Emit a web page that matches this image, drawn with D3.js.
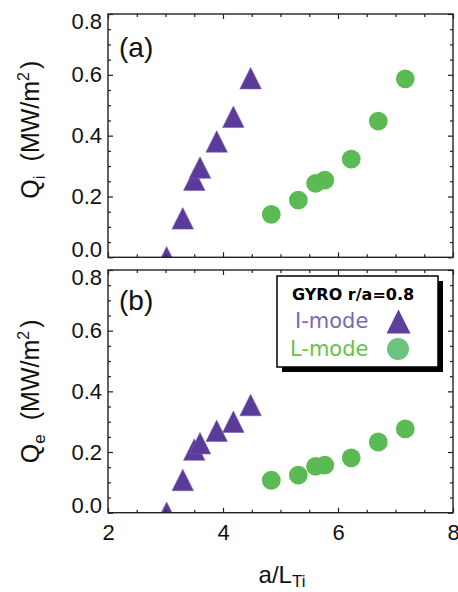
<!DOCTYPE html>
<html>
<head>
<meta charset="utf-8">
<script src="https://cdn.jsdelivr.net/npm/d3@7"></script>
<style>
  html, body { margin: 0; padding: 0; background: #fff; }
  svg { display: block; }
  text { font-family: "Liberation Sans", Arial, Helvetica, sans-serif; }
</style>
</head>
<body>
<svg id="chart" width="458" height="592"></svg>
<script>
// a/L_Ti for each GYRO case
const imodeX = [3.02, 3.30, 3.50, 3.60, 3.89, 4.18, 4.48];
const lmodeX = [4.84, 5.31, 5.61, 5.77, 6.23, 6.70, 7.17];

// ion heat flux Q_i (MW/m^2)
const imodeQi = [0.0, 0.128, 0.255, 0.295, 0.381, 0.462, 0.589];
const lmodeQi = [0.141, 0.188, 0.243, 0.254, 0.323, 0.448, 0.587];

// electron heat flux Q_e (MW/m^2)
const imodeQe = [0.0, 0.108, 0.208, 0.229, 0.270, 0.300, 0.355];
const lmodeQe = [0.107, 0.124, 0.153, 0.157, 0.181, 0.233, 0.276];

// axis ticks
const xMajorTicks = [2, 4, 6, 8];
const xMinorTicks = [2.5, 3, 3.5, 4.5, 5, 5.5, 6.5, 7, 7.5];
const yMajorTicks = [0.0, 0.2, 0.4, 0.6, 0.8];
const yMinorTicks = [0.05, 0.1, 0.15, 0.25, 0.3, 0.35, 0.45, 0.5, 0.55, 0.65, 0.7, 0.75];

const panelLabels = ["(a)", "(b)"];
const legendTitle = "GYRO r/a=0.8";
const seriesNames = ["I-mode", "L-mode"];

const purple = "#5b3b99";
const purpleEdge = "#7a62b2";
const green = "#5cba55";

const svg = d3.select("#chart");

const x = d3.scaleLinear().domain([2, 8]).range([108, 453]);

const panels = [
  { label: panelLabels[0], top: 14, bottom: 257.3, imode: imodeQi, lmode: lmodeQi, sub: "i", showX: false },
  { label: panelLabels[1], top: 270, bottom: 512.7, imode: imodeQe, lmode: lmodeQe, sub: "e", showX: true }
];

// triangle centred on its bounding box
const triangleType = {
  draw(ctx, size) {
    const w = Math.sqrt(size);
    const h = w / 2;
    ctx.moveTo(0, -h);
    ctx.lineTo(h, h);
    ctx.lineTo(-h, h);
    ctx.closePath();
  }
};

panels.forEach((p, i) => {
  const y = d3.scaleLinear().domain([0, 0.8]).range([p.bottom, p.top]);
  const g = svg.append("g");
  const x0 = x.range()[0], x1 = x.range()[1];

  const clipId = "clip" + i;
  svg.append("clipPath").attr("id", clipId)
    .append("rect")
    .attr("x", x0).attr("y", p.top)
    .attr("width", x1 - x0).attr("height", p.bottom - p.top);

  const plot = g.append("g").attr("clip-path", `url(#${clipId})`);

  plot.selectAll("path.imode")
    .data(p.imode.map((v, k) => [imodeX[k], v]))
    .join("path")
    .attr("class", "imode")
    .attr("transform", d => `translate(${x(d[0])},${y(d[1])})`)
    .attr("d", d3.symbol(triangleType, 21.5 * 21.5))
    .attr("fill", purple)
    .attr("stroke", purpleEdge)
    .attr("stroke-width", 0.6);

  plot.selectAll("circle.lmode")
    .data(p.lmode.map((v, k) => [lmodeX[k], v]))
    .join("circle")
    .attr("class", "lmode")
    .attr("cx", d => x(d[0]))
    .attr("cy", d => y(d[1]))
    .attr("r", 9.4)
    .attr("fill", green);

  // axes with inward ticks on all four sides
  const axisStyle = sel => {
    sel.select(".domain").remove();
    sel.selectAll("line").attr("stroke", "#222").attr("stroke-width", 1.2);
    sel.selectAll("text").attr("fill", "#111").style("font-size", "22px")
      .style("font-family", '"Liberation Sans", Arial, sans-serif');
  };

  const bottomMajor = d3.axisBottom(x).tickValues(xMajorTicks).tickSize(-5).tickPadding(12)
    .tickFormat(p.showX ? d3.format("d") : () => "");
  g.append("g").attr("transform", `translate(0,${p.bottom})`).call(bottomMajor).call(axisStyle);
  g.append("g").attr("transform", `translate(0,${p.bottom})`)
    .call(d3.axisBottom(x).tickValues(xMinorTicks).tickSize(-3).tickFormat(() => "")).call(axisStyle);
  g.append("g").attr("transform", `translate(0,${p.top})`)
    .call(d3.axisTop(x).tickValues(xMajorTicks).tickSize(-5).tickFormat(() => "")).call(axisStyle);
  g.append("g").attr("transform", `translate(0,${p.top})`)
    .call(d3.axisTop(x).tickValues(xMinorTicks).tickSize(-3).tickFormat(() => "")).call(axisStyle);

  const leftMajor = g.append("g").attr("transform", `translate(${x0},0)`)
    .call(d3.axisLeft(y).tickValues(yMajorTicks).tickSize(-5).tickPadding(6).tickFormat(d3.format(".1f")))
    .call(axisStyle);
  // end labels sit just inside the frame so the two panels' labels don't collide
  leftMajor.selectAll(".tick text")
    .attr("dy", d => d === 0 ? "-0.02em" : d === 0.8 ? "0.66em" : "0.32em");
  g.append("g").attr("transform", `translate(${x0},0)`)
    .call(d3.axisLeft(y).tickValues(yMinorTicks).tickSize(-3).tickFormat(() => "")).call(axisStyle);
  g.append("g").attr("transform", `translate(${x1},0)`)
    .call(d3.axisRight(y).tickValues(yMajorTicks).tickSize(-5).tickFormat(() => "")).call(axisStyle);
  g.append("g").attr("transform", `translate(${x1},0)`)
    .call(d3.axisRight(y).tickValues(yMinorTicks).tickSize(-3).tickFormat(() => "")).call(axisStyle);

  // frame
  g.append("rect")
    .attr("x", x0).attr("y", p.top)
    .attr("width", x1 - x0).attr("height", p.bottom - p.top)
    .attr("fill", "none").attr("stroke", "#222").attr("stroke-width", 1.4);

  // panel label
  g.append("text")
    .attr("x", 119).attr("y", p.top + (i === 0 ? 42.5 : 39.5))
    .style("font-size", "28px").attr("fill", "#111")
    .text(p.label);

  // y-axis title
  const cy = (p.top + p.bottom) / 2 - (i === 0 ? 6 : 0);
  const t = g.append("text")
    .attr("transform", `translate(39,${cy}) rotate(-90)`)
    .attr("text-anchor", "middle")
    .style("font-size", "25px").attr("fill", "#111");
  t.append("tspan").text("Q");
  t.append("tspan").attr("dy", 6).style("font-size", "17px").text(p.sub);
  t.append("tspan").attr("dy", -6).attr("dx", 14).text("(MW/m");
  t.append("tspan").attr("dy", -10).style("font-size", "16px").text("2");
  t.append("tspan").attr("dy", 10).attr("dx", 3).text(")");

  if (p.showX) {
    const xt = g.append("text")
      .attr("x", 282).attr("y", 583)
      .attr("text-anchor", "middle")
      .style("font-size", "24px").attr("fill", "#111");
    xt.append("tspan").text("a/L");
    xt.append("tspan").attr("dy", 4).style("font-size", "17px").text("Ti");
  }
});

// legend in panel (b)
const legend = svg.append("g");
const lx = 277, ly = 276, lw = 161, lh = 91;
legend.append("rect").attr("x", lx + 5).attr("y", ly + 5).attr("width", lw).attr("height", lh).attr("fill", "#000");
legend.append("rect").attr("x", lx).attr("y", ly).attr("width", lw).attr("height", lh)
  .attr("fill", "#fff").attr("stroke", "#000").attr("stroke-width", 1.5);
legend.append("text").attr("x", 292).attr("y", 300)
  .style("font-family", '"DejaVu Sans", sans-serif').style("font-size", "16px").style("font-weight", "bold")
  .attr("fill", "#000").text(legendTitle);
legend.append("text").attr("x", 295).attr("y", 328)
  .style("font-family", '"DejaVu Sans", sans-serif').style("font-size", "21px")
  .attr("fill", "#7b68b3").text(seriesNames[0]);
legend.append("text").attr("x", 290).attr("y", 356)
  .style("font-family", '"DejaVu Sans", sans-serif').style("font-size", "21px")
  .attr("fill", "#6cbf45").text(seriesNames[1]);
legend.append("path")
  .attr("transform", "translate(398.5,321.5)")
  .attr("d", d3.symbol(triangleType, 24 * 24))
  .attr("fill", "#5e3f9d");
legend.append("circle").attr("cx", 398).attr("cy", 349).attr("r", 11).attr("fill", "#6cc27f");
</script>
</body>
</html>
